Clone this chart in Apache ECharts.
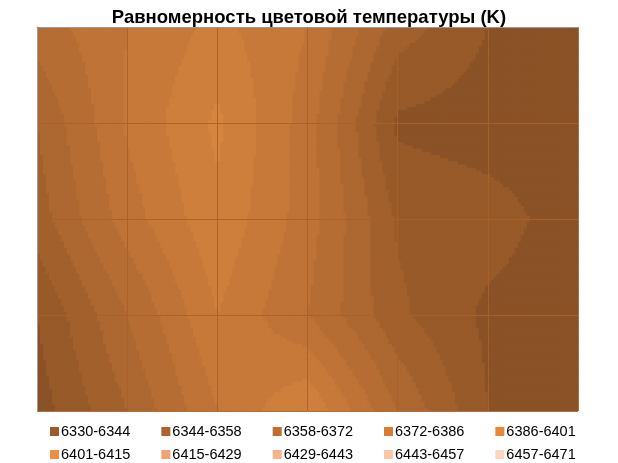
<!DOCTYPE html>
<html><head><meta charset="utf-8">
<script src="https://cdn.jsdelivr.net/npm/echarts@6/dist/echarts.min.js"></script>
<style>html,body{margin:0;padding:0;background:#fff}#c{width:618px;height:463px}</style>
</head><body><div id="c"></div>
<script>
const title = 'Равномерность цветовой температуры (K)';
const bandLabels = ['6330-6344','6344-6358','6358-6372','6372-6386','6386-6401','6401-6415','6415-6429','6429-6443','6443-6457','6457-6471'];
const bandEdges = [6330,6344,6358,6372,6386,6401,6415,6429,6443,6457,6471];
const row0 = [6393,6415,6433,6415,6365,6344,6337];
const row1 = [6372,6417,6446,6408,6341,6337,6338];
const row2 = [6365,6408,6440,6408,6356,6350,6337];
const row3 = [6344,6386,6429,6401,6361,6341,6337];
const row4 = [6337,6372,6415,6443,6386,6344,6337];
const grid = [row0,row1,row2,row3,row4];
const plotColors = ['#8a5226','#985a29','#a2602d','#ad6731','#b66d33','#bf7336','#c77939','#cf7f3c','#d6853f','#dd8c45'];
const legendColors = ['#a0572a','#b0622e','#c06d33','#d97a35','#e8873a','#f08d40','#f4a070','#f7b48c','#f9c6a8','#fbd6c0'];

function band(v){for(let i=bandEdges.length-2;i>=0;i--) if(v>=bandEdges[i]) return i; return 0;}
const cells=[];
for(let r=0;r<4;r++)for(let c=0;c<6;c++)cells.push([c,r]);
const N=30;
function renderItem(params,api){
  const c=api.value(0), r=api.value(1);
  const p0=api.coord([c,r]), p1=api.coord([c+1,r+1]);
  const w=(p1[0]-p0[0])/N, h=(p1[1]-p0[1])/N;
  const a=grid[r][c], b=grid[r][c+1], d=grid[r+1][c], e=grid[r+1][c+1];
  const children=[];
  for(let i=0;i<N;i++)for(let j=0;j<N;j++){
    const s=(i+0.5)/N, t=(j+0.5)/N;
    const v=a*(1-s)*(1-t)+b*s*(1-t)+d*(1-s)*t+e*s*t;
    const col=plotColors[band(v)];
    const x=p0[0]+i*w, y=p0[1]+j*h;
    const ww=(i===N-1&&c===5)?w:w+1, hh=(j===N-1&&r===3)?h:h+1;
    children.push({type:'rect',shape:{x,y,width:ww,height:hh},style:{fill:col}});
  }
  return {type:'group',children};
}
const series=[{type:'custom',name:'_surface',renderItem,data:cells,encode:{x:0,y:1},silent:true,z:1}];
bandLabels.forEach((n,i)=>series.push({type:'custom',name:n,data:[],renderItem:()=>null,itemStyle:{color:legendColors[i]}}));
const leg=(items,top)=>({top,left:45,itemWidth:9,itemHeight:9,itemGap:31,icon:'rect',selectedMode:false,
  data:items.map(n=>({name:n})),textStyle:{fontFamily:'Liberation Sans, Arial',fontSize:14.5,color:'#000',padding:[0,0,0,-3]}});
const chart=echarts.init(document.getElementById('c'));
chart.setOption({
  animation:false,
  title:{text:title,left:'center',top:3,textStyle:{fontFamily:'Liberation Sans, Arial',fontSize:18.5,fontWeight:'bold',color:'#000'}},
  grid:{left:37,right:40,top:27,bottom:52},
  xAxis:{type:'value',min:0,max:6,interval:1,z:5,axisLabel:{show:false},axisTick:{show:false},axisLine:{show:true,lineStyle:{color:'#999'}},splitLine:{show:true,lineStyle:{color:'rgba(170,95,40,0.9)',width:1}}},
  yAxis:{type:'value',min:0,max:4,interval:1,z:5,inverse:true,axisLabel:{show:false},axisTick:{show:false},axisLine:{show:true,lineStyle:{color:'#999'}},splitLine:{show:true,lineStyle:{color:'rgba(170,95,40,0.9)',width:1}}},
  legend:[leg(bandLabels.slice(0,5),419),leg(bandLabels.slice(5),442)],
  series
});
</script></body></html>
